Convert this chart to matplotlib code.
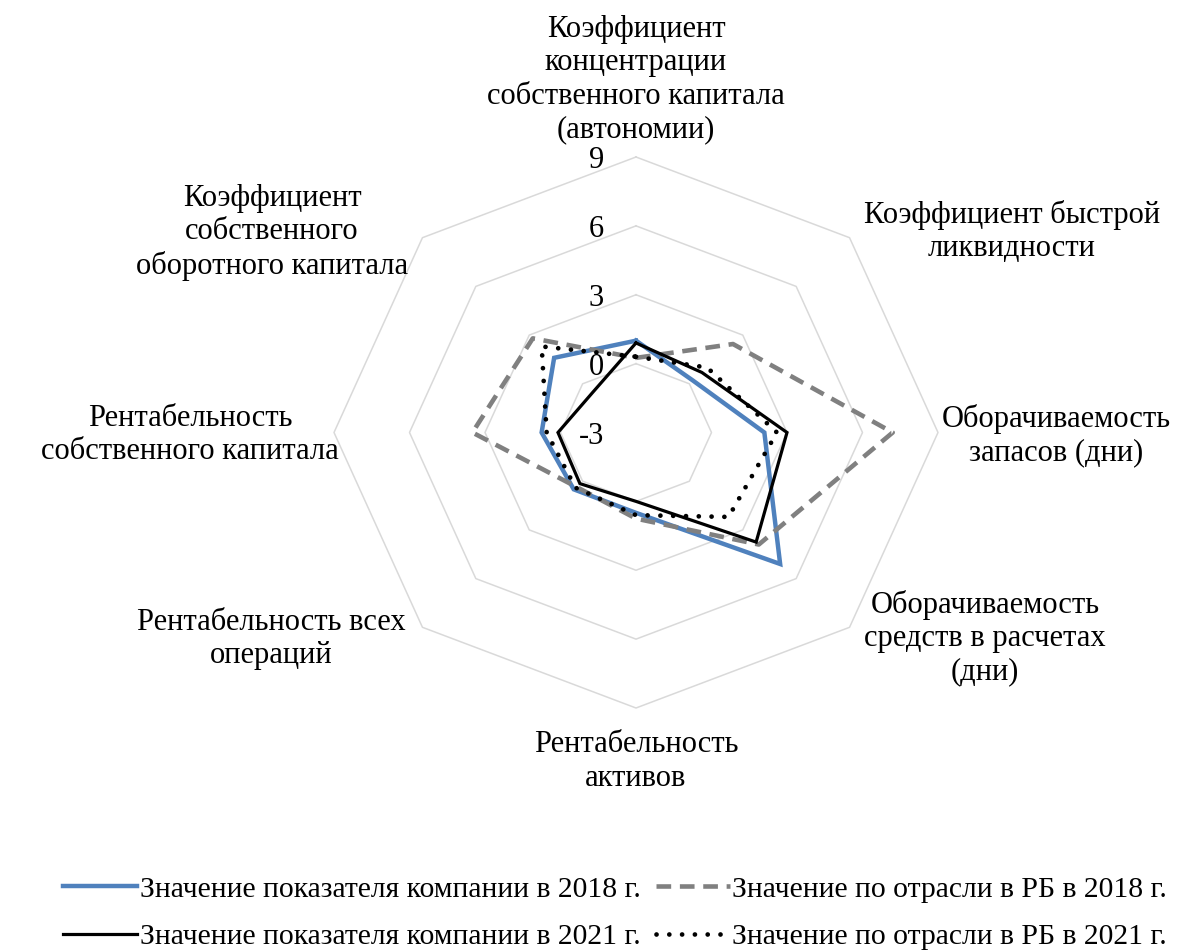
import numpy as np
import matplotlib
matplotlib.use("Agg")
import matplotlib.pyplot as plt
from matplotlib.lines import Line2D

plt.rcParams["font.family"] = ["Liberation Serif", "DejaVu Serif"]

# =========================
# DATA
# =========================
categories = [
    "Коэффициент\nконцентрации\nсобственного капитала\n(автономии)",
    "Коэффициент быстрой\nликвидности",
    "Оборачиваемость\nзапасов (дни)",
    "Оборачиваемость\nсредств в расчетах\n(дни)",
    "Рентабельность\nактивов",
    "Рентабельность всех\nопераций",
    "Рентабельность\nсобственного капитала",
    "Коэффициент\nсобственного\nоборотного капитала",
]
company_2018 = [1.0, 0.2, 2.1, 5.1, 0.5, 0.5, 0.75, 1.6]
industry_2018 = [0.25, 2.45, 7.2, 3.9, 0.75, 0.35, 3.5, 2.8]
company_2021 = [0.9, 0.7, 3.0, 3.75, 0.0, 0.15, 0.1, -0.55]
industry_2021 = [0.3, 1.0, 2.6, 2.2, 0.6, 0.4, 0.55, 2.3]

ticks = [-3, 0, 3, 6, 9]
r_min, r_max = -3, 9

series_names = [
    "Значение показателя компании в 2018 г.",
    "Значение показателя компании в 2021 г.",
    "Значение по отрасли в РБ в 2018 г.",
    "Значение по отрасли в РБ в 2021 г.",
]

# label anchors (radius units)
label_pos = [(0.0, 15.37), (14.94, 8.75), (16.69, -0.13), (13.87, -8.95),
             (0.0, -14.33), (-14.5, -8.99), (-17.72, -0.11), (-14.46, 8.73)]

# =========================
# HELPERS
# =========================
n = len(categories)
theta = np.arange(n) * 2 * np.pi / n


def to_xy(vals):
    r = np.asarray(vals, dtype=float) - r_min
    x = r * np.sin(theta)
    y = r * np.cos(theta)
    return np.append(x, x[0]), np.append(y, y[0])


# =========================
# PLOT
# =========================
W, H = 1193, 951
fig = plt.figure(figsize=(W / 100, H / 100), dpi=100)
ax = fig.add_axes([0, 0, 1, 1])
cx, cy = 636, 432.5
ux, uy = 302 / 12, 275.5 / 12
ax.set_xlim(-cx / ux, (W - cx) / ux)
ax.set_ylim(-(H - cy) / uy, cy / uy)
ax.axis("off")

FS = 22

# grid octagons
for t in ticks[1:]:
    gx, gy = to_xy([t] * n)
    ax.plot(gx, gy, color="#D9D9D9", lw=1.1, zorder=1)

# tick labels
for t in ticks:
    ax.text(-1.27, t - r_min - 0.17, str(t), ha="right", va="center",
            fontsize=FS, color="black")

styles = [
    dict(color="#4F81BD", lw=3.2, ls="-"),
    dict(color="black", lw=2.3, ls="-"),
    dict(color="#808080", lw=3.3, ls=(0, (3.2, 1.9))),
    dict(color="black", lw=3.4, ls=(0, (0.01, 2.7)), dash_capstyle="round"),
]
data = [company_2018, company_2021, industry_2018, industry_2021]
order = [0, 2, 1, 3]
for z, i in enumerate(order):
    sx, sy = to_xy(data[i])
    ax.plot(sx, sy, zorder=3 + z, solid_joinstyle="miter", **styles[i])

# category labels
for lab, (lx, ly) in zip(categories, label_pos):
    ax.text(lx, ly, lab, ha="center", va="center", fontsize=FS,
            linespacing=1.2, multialignment="center")

handles = [Line2D([0], [0], **styles[i]) for i in range(4)]
fig.legend(handles, series_names, ncol=2, loc="upper left",
           bbox_to_anchor=(63 / W, 1 - 876 / H), frameon=False,
           fontsize=21.3, handlelength=2.5, handletextpad=0.1,
           columnspacing=0.5, labelspacing=0.7, borderaxespad=0,
           borderpad=0)

fig.savefig("out.png", dpi=100)
